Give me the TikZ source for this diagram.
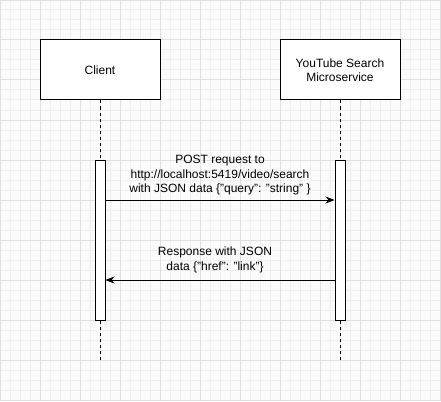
\documentclass[tikz,border=0pt]{standalone}
\usepackage{fontspec}
\setmainfont{Liberation Sans}
\usetikzlibrary{arrows.meta}
\definecolor{bgcol}{HTML}{FBFBFB}
\definecolor{minorgrid}{HTML}{EEEEEE}
\definecolor{majorgrid}{HTML}{DFDFDF}
\tikzset{
  actor/.style={draw=black, fill=white, line width=1pt, minimum width=120pt, minimum height=60pt, inner sep=0pt, font=\fontsize{12}{14.5}\selectfont, align=center},
  actbar/.style={draw=black, fill=white, line width=1pt, minimum width=10pt, minimum height=160pt, inner sep=0pt},
  lifeline/.style={draw=black, line width=1pt, dash pattern=on 3pt off 3pt},
  msg/.style={draw=black, line width=1pt, -{Stealth[length=9pt, width=7pt]}},
  msglabel/.style={font=\fontsize{12}{14.5}\selectfont, align=center, inner sep=0pt}
}
\begin{document}
\begin{tikzpicture}[x=1pt, y=-1pt]
\useasboundingbox (0,0) rectangle (441,401);
\fill[bgcol] (0,0) rectangle (441,401);
\draw[minorgrid, line width=1pt] (0,0) grid[step=10pt] (441,401);
\draw[majorgrid, line width=1pt] (0,0) grid[step=40pt] (441,401);

\node[actor] (client) at (100,70) {Client};
\node[actor] (yt) at (340,70) {YouTube Search\\Microservice};

\node[actbar] (ca) at (100,240) {};
\node[actbar] (ya) at (340,240) {};

\coordinate (cend) at (100,360);
\coordinate (yend) at (340,360);

\draw[lifeline] (client.south) -- (ca.north);
\draw[lifeline] (ca.south) -- (cend);
\draw[lifeline] (yt.south) -- (ya.north);
\draw[lifeline] (ya.south) -- (yend);

\draw[msg] ([yshift=-40.5pt]ca.north east) -- ([yshift=-40.5pt]ya.north west);
\draw[msg] ([yshift=-120.5pt]ya.north west) -- ([yshift=-120.5pt]ca.north east);

\node[msglabel] (m1) at (220,175.5) {POST request to\\http://localhost:5419/video/search\\with JSON data \{"query": "string" \}};
\node[msglabel] (m2) at (215,260) {Response with JSON\\data \{"href": "link"\}};
\end{tikzpicture}
\end{document}
